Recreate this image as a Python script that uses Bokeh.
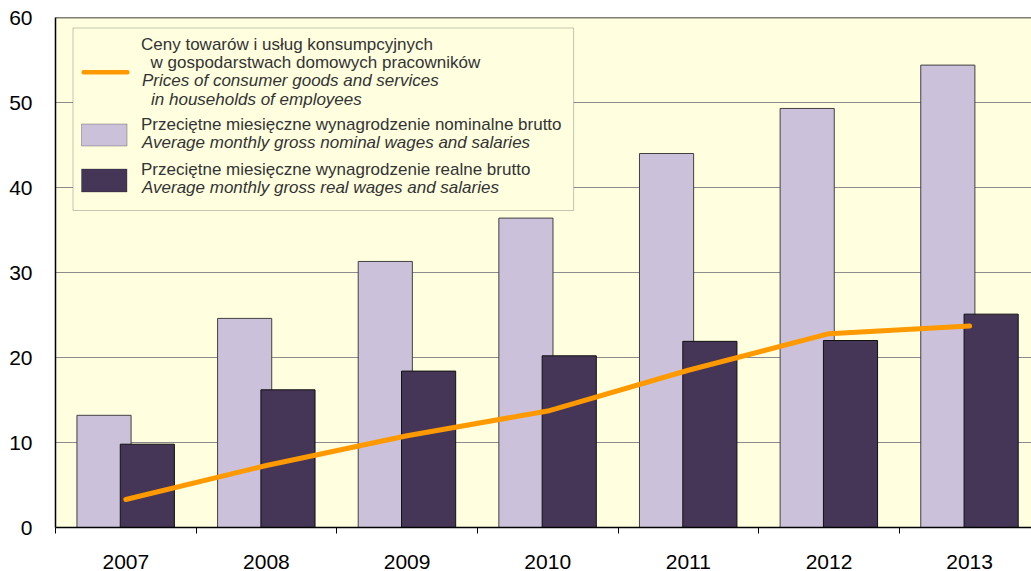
from bokeh.plotting import figure
from bokeh.models import FixedTicker, Span, BoxAnnotation, Label, ColumnDataSource
from bokeh.embed import file_html
from bokeh.resources import INLINE

years = ["2007", "2008", "2009", "2010", "2011", "2012", "2013"]
nominal_wages = [13.2, 24.6, 31.3, 36.4, 44.0, 49.3, 54.4]
real_wages = [9.8, 16.2, 18.4, 20.2, 21.9, 22.0, 25.1]
consumer_prices = [3.3, 7.3, 10.8, 13.7, 18.5, 22.8, 23.7]
y_ticks = [0, 10, 20, 30, 40, 50, 60]

BG = "#FFFFE0"
NOMINAL = "#CCC1DA"
REAL = "#453657"
ORANGE = "#FF9900"
FONT = "Liberation Sans"

n = len(years)
centers = [i + 0.5 for i in range(n)]
bar_w = 0.385
src = ColumnDataSource(dict(
    x_nom=[c - 0.155 for c in centers],
    x_real=[c + 0.153 for c in centers],
    x_mid=centers,
    nominal=nominal_wages,
    real=real_wages,
    prices=consumer_prices,
))

p = figure(width=1031, height=571, x_range=(0, 6.94), y_range=(0, 60),
           output_backend="svg", toolbar_location=None,
           min_border_left=55, min_border_right=0,
           min_border_top=17, min_border_bottom=44)
p.background_fill_color = BG
p.border_fill_color = "white"
p.outline_line_color = None

# bars and line
p.vbar(x="x_nom", top="nominal", width=bar_w, source=src,
       fill_color=NOMINAL, line_color="#404040", line_width=1)
p.vbar(x="x_real", top="real", width=bar_w, source=src,
       fill_color=REAL, line_color="#111111", line_width=1)
p.line(x="x_mid", y="prices", source=src, line_color=ORANGE,
       line_width=5, line_cap="round", line_join="round")

# grid
p.xgrid.visible = False
p.ygrid.ticker = FixedTicker(ticks=y_ticks)
p.ygrid.grid_line_color = "#8C8C8C"
p.ygrid.grid_line_width = 1
p.add_layout(Span(location=60, dimension="width", line_color="black", line_width=1.5))

# axes
xa = p.xaxis[0]
xa.ticker = FixedTicker(ticks=centers, minor_ticks=list(range(n + 1)))
xa.major_label_overrides = {c: y for c, y in zip(centers, years)}
xa.major_tick_out = 0
xa.major_tick_in = 0
xa.minor_tick_out = 6
xa.minor_tick_in = 0
xa.minor_tick_line_color = "black"
xa.axis_line_color = "black"
xa.axis_line_width = 1.5
xa.major_label_text_font = FONT
xa.major_label_text_font_size = "21px"
xa.major_label_text_color = "black"
xa.major_label_standoff = 21

ya = p.yaxis[0]
ya.ticker = FixedTicker(ticks=y_ticks)
ya.major_tick_out = 0
ya.major_tick_in = 0
ya.minor_tick_out = 0
ya.minor_tick_in = 0
ya.axis_line_color = "black"
ya.axis_line_width = 1.5
ya.major_label_text_font = FONT
ya.major_label_text_font_size = "21px"
ya.major_label_text_color = "black"
ya.major_label_standoff = 23

# legend panel
PX = 140.6   # pixels per category
PY = 8.5     # pixels per unit on the value axis


def dx(px):
    return (px - 55) / PX


def dy(py):
    return (527 - py) / PY


p.add_layout(BoxAnnotation(left=dx(72.5), right=dx(573), top=dy(27.5), bottom=dy(210),
                           fill_color=BG, fill_alpha=1, line_color="#404040", line_width=1))
p.add_layout(BoxAnnotation(left=dx(81), right=dx(129), top=dy(69.5), bottom=dy(74),
                           fill_color=ORANGE, fill_alpha=1, line_color=None,
                           border_radius=2))
p.add_layout(BoxAnnotation(left=dx(81), right=dx(126.5), top=dy(123.5), bottom=dy(145.5),
                           fill_color=NOMINAL, fill_alpha=1, line_color="#222222", line_width=1))
p.add_layout(BoxAnnotation(left=dx(81), right=dx(126.5), top=dy(168.5), bottom=dy(191.5),
                           fill_color=REAL, fill_alpha=1, line_color="#222222", line_width=1))

legend_lines = [
    ("Ceny towarów i usług konsumpcyjnych", 140.5, 43.5, "normal"),
    ("w gospodarstwach domowych pracowników", 150, 61.5, "normal"),
    ("Prices of consumer goods and services", 141.5, 80, "italic"),
    ("in households of employees", 150.5, 98.5, "italic"),
    ("Przeciętne miesięczne wynagrodzenie nominalne brutto", 140.5, 123.5, "normal"),
    ("Average monthly gross nominal wages and salaries", 141.5, 141.5, "italic"),
    ("Przeciętne miesięczne wynagrodzenie realne brutto", 140.5, 169, "normal"),
    ("Average monthly gross real wages and salaries", 141.5, 187, "italic"),
]
for txt, px, py, style in legend_lines:
    p.add_layout(Label(x=dx(px), y=dy(py), text=txt, text_font=FONT,
                       text_font_size="17px", text_font_style=style,
                       text_color="#333333", text_baseline="middle", text_align="left"))

open("out.html", "w").write(file_html(p, INLINE))
